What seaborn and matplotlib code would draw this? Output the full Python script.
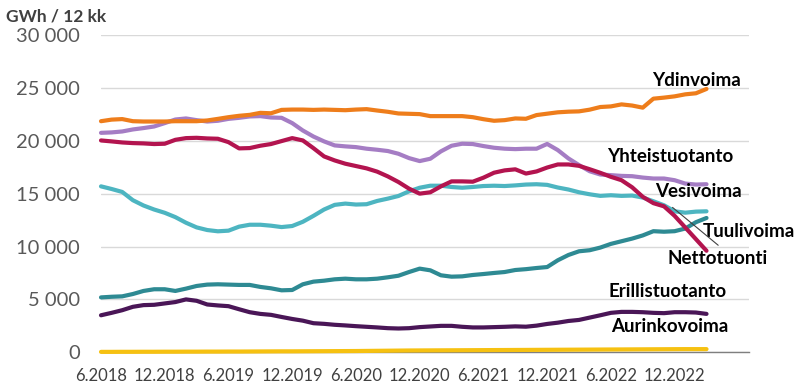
import matplotlib
matplotlib.use('Agg')
import matplotlib.pyplot as plt
import pandas as pd
import seaborn as sns

# Kuukaudet 6.2018 - 3.2023 (liukuva 12 kk summa, GWh)
months = pd.date_range('2018-06-01', '2023-03-01', freq='MS')
tick_labels = ['6.2018', '12.2018', '6.2019', '12.2019', '6.2020', '12.2020',
               '6.2021', '12.2021', '6.2022', '12.2022', '']

ydinvoima = [21850, 22000, 22050, 21850, 21820, 21820, 21820, 21850, 21850, 21850,
             21920, 22070, 22230, 22360, 22450, 22640, 22600, 22920, 22950, 22950,
             22920, 22950, 22920, 22890, 22950, 22990, 22860, 22740, 22580, 22550,
             22520, 22330, 22330, 22330, 22330, 22230, 22040, 21890, 21950, 22110,
             22080, 22430, 22560, 22690, 22750, 22780, 22940, 23190, 23250, 23440,
             23330, 23130, 23980, 24080, 24200, 24390, 24490, 24900]
yhteistuotanto = [20750, 20790, 20880, 21070, 21200, 21350, 21670, 22010, 22110, 21950,
                  21820, 21890, 22070, 22170, 22300, 22330, 22200, 22170, 21670, 20970,
                  20400, 19940, 19560, 19470, 19400, 19250, 19150, 19030, 18770, 18360,
                  18080, 18300, 19000, 19530, 19720, 19690, 19500, 19340, 19250, 19210,
                  19250, 19250, 19700, 19120, 18330, 17700, 17120, 16810, 16750, 16680,
                  16650, 16520, 16430, 16430, 16270, 15950, 15860, 15890]
nettotuonti = [20030, 19940, 19840, 19780, 19750, 19690, 19720, 20090, 20250, 20280,
               20220, 20190, 19870, 19280, 19310, 19530, 19690, 19970, 20250, 20030,
               19300, 18520, 18140, 17830, 17610, 17390, 17080, 16630, 16100, 15470,
               15000, 15130, 15690, 16160, 16160, 16130, 16510, 16980, 17200, 17300,
               16900, 17100, 17470, 17760, 17760, 17630, 17310, 16970, 16590, 16270,
               15600, 14700, 14100, 13800, 12900, 11800, 10700, 9600]
vesivoima = [15690, 15440, 15160, 14380, 13880, 13500, 13190, 12780, 12250, 11810,
             11560, 11440, 11500, 11880, 12060, 12060, 11970, 11840, 11940, 12340,
             12900, 13500, 13940, 14060, 13970, 14000, 14310, 14530, 14780, 15220,
             15560, 15750, 15750, 15630, 15560, 15630, 15720, 15750, 15720, 15780,
             15860, 15890, 15830, 15580, 15390, 15130, 14940, 14790, 14850, 14790,
             14820, 14630, 14280, 13900, 13330, 13200, 13300, 13330]
tuulivoima = [5190, 5250, 5290, 5510, 5800, 5960, 5960, 5800, 6020, 6270,
              6400, 6430, 6400, 6370, 6370, 6180, 6050, 5860, 5890, 6430,
              6680, 6770, 6900, 6960, 6900, 6900, 6960, 7090, 7240, 7590,
              7910, 7750, 7280, 7150, 7180, 7310, 7400, 7500, 7590, 7780,
              7860, 7970, 8060, 8700, 9200, 9550, 9650, 9900, 10250, 10500,
              10750, 11050, 11450, 11400, 11450, 11700, 12300, 12700]
erillistuotanto = [3500, 3730, 3980, 4300, 4460, 4490, 4620, 4750, 5000, 4870,
                   4520, 4430, 4360, 4070, 3790, 3630, 3540, 3340, 3150, 2990,
                   2750, 2690, 2600, 2540, 2470, 2410, 2350, 2280, 2250, 2280,
                   2380, 2440, 2500, 2500, 2410, 2350, 2350, 2380, 2410, 2450,
                   2420, 2520, 2680, 2800, 2960, 3060, 3280, 3500, 3730, 3820,
                   3820, 3790, 3730, 3700, 3790, 3790, 3760, 3630]
aurinkovoima = [40, 40, 45, 45, 50, 50, 55, 55, 60, 60,
                65, 65, 70, 70, 75, 80, 85, 90, 90, 95,
                100, 105, 110, 115, 120, 130, 140, 150, 160, 170,
                175, 180, 185, 190, 195, 200, 205, 210, 215, 220,
                225, 230, 235, 240, 245, 250, 255, 260, 265, 270,
                275, 280, 285, 290, 295, 300, 300, 300]

series = {
    'Aurinkovoima': aurinkovoima,
    'Erillistuotanto': erillistuotanto,
    'Tuulivoima': tuulivoima,
    'Vesivoima': vesivoima,
    'Yhteistuotanto': yhteistuotanto,
    'Nettotuonti': nettotuonti,
    'Ydinvoima': ydinvoima,
}
colors = {
    'Ydinvoima': '#ee7d1b',
    'Yhteistuotanto': '#a57dc4',
    'Nettotuonti': '#b3144f',
    'Vesivoima': '#4db5c1',
    'Tuulivoima': '#2e8a93',
    'Erillistuotanto': '#4a1657',
    'Aurinkovoima': '#f6c111',
}

rows = []
for name, vals in series.items():
    for i, v in enumerate(vals):
        rows.append({'kk': i, 'GWh': v, 'Lähde': name})
df = pd.DataFrame(rows)

sns.set_style('white')
plt.rcParams['font.family'] = ['Lato', 'DejaVu Sans']

fig = plt.figure(figsize=(8, 3.92), dpi=100)
ax = fig.add_axes([0.12625, 0.1013, 0.81, 0.8094])

sns.lineplot(data=df, x='kk', y='GWh', hue='Lähde', palette=colors,
             hue_order=list(series.keys()), linewidth=3, legend=False, ax=ax)
for ln in ax.lines:
    ln.set_clip_on(False)
    ln.set_zorder(3)
    ln.set_solid_capstyle('round')

ax.set_xlim(0, 61)
ax.set_ylim(0, 30000)
ax.set_xticks(range(0, 61, 6))
ax.set_xticklabels(tick_labels)
ax.set_yticks(range(0, 30001, 5000))
ax.set_yticklabels([f'{v:,}'.replace(',', ' ') for v in range(0, 30001, 5000)])
ax.set_xlabel('')
ax.set_ylabel('')

ax.yaxis.grid(True, color='#d9d9d9', linewidth=1)
ax.set_axisbelow(True)
for s in ['top', 'right', 'left']:
    ax.spines[s].set_visible(False)
ax.spines['bottom'].set_color('#7f7f7f')
ax.spines['bottom'].set_linewidth(1)
ax.tick_params(axis='x', direction='out', length=5, width=1, color='#7f7f7f',
               labelsize=12, labelcolor='#404040', pad=6)
ax.tick_params(axis='y', length=0, labelsize=14.5, labelcolor='#595959', pad=15)

fig.text(0.008, 0.958, 'GWh / 12 kk', fontsize=12.5, fontweight='bold',
         color='#404040', ha='left', va='center')

labels = [('Ydinvoima', 51.9, 25680), ('Yhteistuotanto', 47.6, 18510),
          ('Vesivoima', 52.2, 15210), ('Tuulivoima', 56.6, 11440),
          ('Nettotuonti', 53.3, 8890), ('Erillistuotanto', 47.8, 5780),
          ('Aurinkovoima', 48.0, 2480)]
for txt, x, y in labels:
    ax.text(x, y, txt, fontsize=13.5, fontweight='bold', color='black',
            ha='left', va='center')
ax.plot([53.8, 58.1], [13700, 10120], color='#404040', linewidth=0.8, zorder=4)

fig.savefig('out.png', dpi=100)
